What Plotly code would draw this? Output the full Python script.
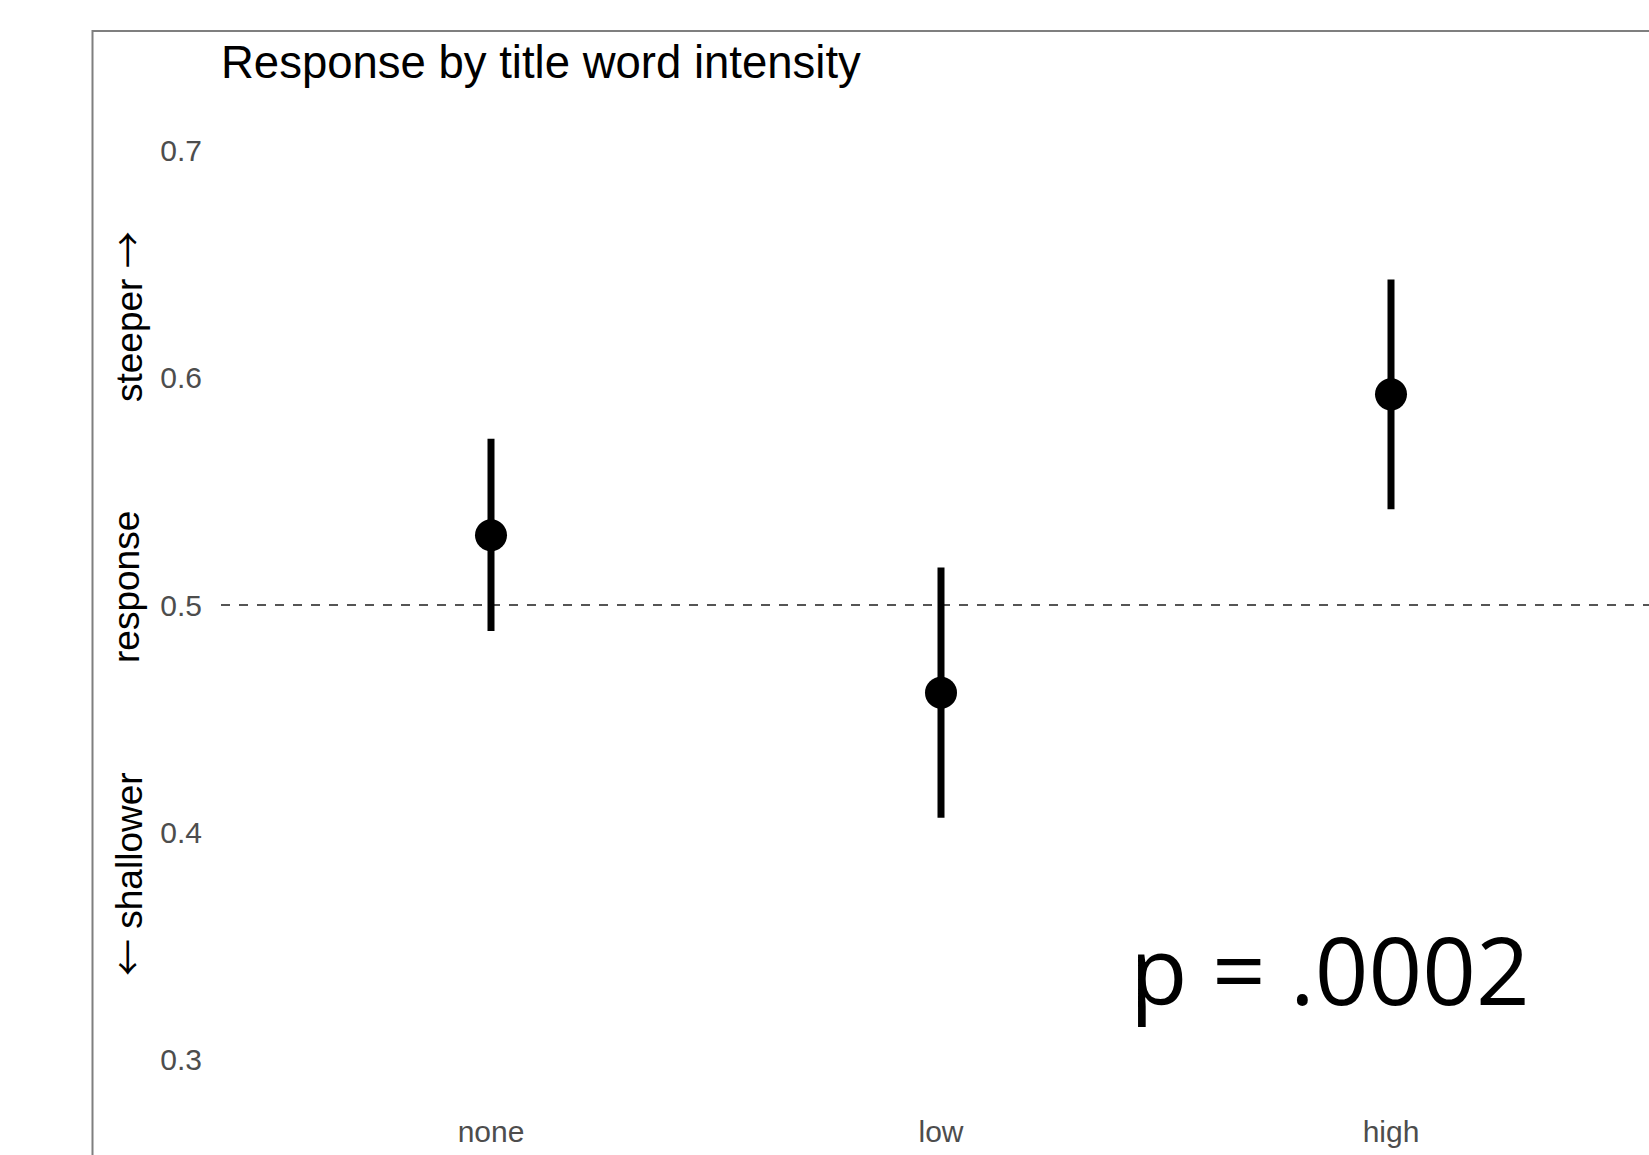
import plotly.graph_objects as go

# Estimated response per title-word intensity level, with interval bounds
categories = ["none", "low", "high"]
means = [0.5307, 0.4614, 0.5927]
lower = [0.4886, 0.4064, 0.5421]
upper = [0.5732, 0.5165, 0.6432]

reference_level = 0.5
y_ticks = [0.3, 0.4, 0.5, 0.6, 0.7]
p_label = "p = .0002"

W, H = 1649, 1155
ML, MR, MT, MB = 221, 0, 105, 50
plot_w = W - ML - MR
plot_h = H - MT - MB


def px_x(px):
    return (px - ML) / plot_w


def px_y(py):
    return (H - MB - py) / plot_h


x_pos = list(range(1, len(categories) + 1))

fig = go.Figure()

fig.add_trace(go.Scatter(
    x=x_pos,
    y=means,
    mode="markers",
    marker=dict(size=32, color="black"),
    error_y=dict(
        type="data",
        symmetric=False,
        array=[u - m for u, m in zip(upper, means)],
        arrayminus=[m - l for m, l in zip(means, lower)],
        thickness=7,
        width=0,
        color="black",
    ),
    showlegend=False,
    hoverinfo="skip",
))

# Dashed reference line at the neutral response level
fig.add_hline(y=reference_level, line=dict(color="#555555", width=2, dash="9px,9px"), layer="below")

font_main = "Liberation Sans, Arial, Helvetica, sans-serif"
arrow_span = '<span style="font-family:Noto Sans CJK JP">{}</span>'

annotations = [
    dict(text=arrow_span.format("←") + " shallower", x=px_x(126), y=px_y(874), textangle=-90),
    dict(text="response", x=px_x(126), y=px_y(587), textangle=-90),
    dict(text="steeper " + arrow_span.format("→"), x=px_x(126), y=px_y(317), textangle=-90),
]
for a in annotations:
    a.update(xref="paper", yref="paper", showarrow=False, xanchor="center", yanchor="middle",
             font=dict(family=font_main, size=37, color="black"))

annotations.append(dict(
    text=p_label, xref="paper", yref="paper", x=px_x(1330), y=px_y(969),
    xanchor="center", yanchor="middle", showarrow=False,
    font=dict(family="Open Sans, Noto Sans, sans-serif", size=94, color="black"),
))

# Outer frame (only the top and left edges fall inside the page)
shapes = [
    dict(type="line", xref="paper", yref="paper", x0=px_x(90), x1=px_x(90),
         y0=px_y(33), y1=px_y(H + 10), line=dict(color="#e6e6e6", width=2)),
    dict(type="rect", xref="paper", yref="paper", x0=px_x(92.5), x1=px_x(W + 20),
         y0=px_y(H + 20), y1=px_y(31), line=dict(color="#7f7f7f", width=2),
         fillcolor="rgba(0,0,0,0)"),
]

fig.update_layout(
    width=W,
    height=H,
    margin=dict(l=ML, r=MR, t=MT, b=MB, pad=0),
    plot_bgcolor="white",
    paper_bgcolor="white",
    title=dict(
        text="Response by title word intensity",
        xref="paper", x=0, xanchor="left",
        yref="container", y=1 - 62 / H, yanchor="middle",
        font=dict(family=font_main, size=45.5, color="black"),
    ),
    annotations=annotations,
    shapes=shapes,
    xaxis=dict(
        range=[0.4, 0.4 + plot_w / 450],
        tickmode="array",
        tickvals=x_pos,
        ticktext=categories,
        showgrid=False, zeroline=False, showline=False,
        ticks="", ticklabelstandoff=6,
        tickfont=dict(family=font_main, size=30, color="#4d4d4d"),
        automargin=False,
        fixedrange=True,
    ),
    yaxis=dict(
        range=[0.28, 0.72],
        tickmode="array",
        tickvals=y_ticks,
        ticktext=[f"{v:.1f}" for v in y_ticks],
        showgrid=False, zeroline=False, showline=False,
        ticks="", ticklabelstandoff=18,
        tickfont=dict(family=font_main, size=30, color="#4d4d4d"),
        automargin=False,
        fixedrange=True,
    ),
)

fig.write_html("out.html")
